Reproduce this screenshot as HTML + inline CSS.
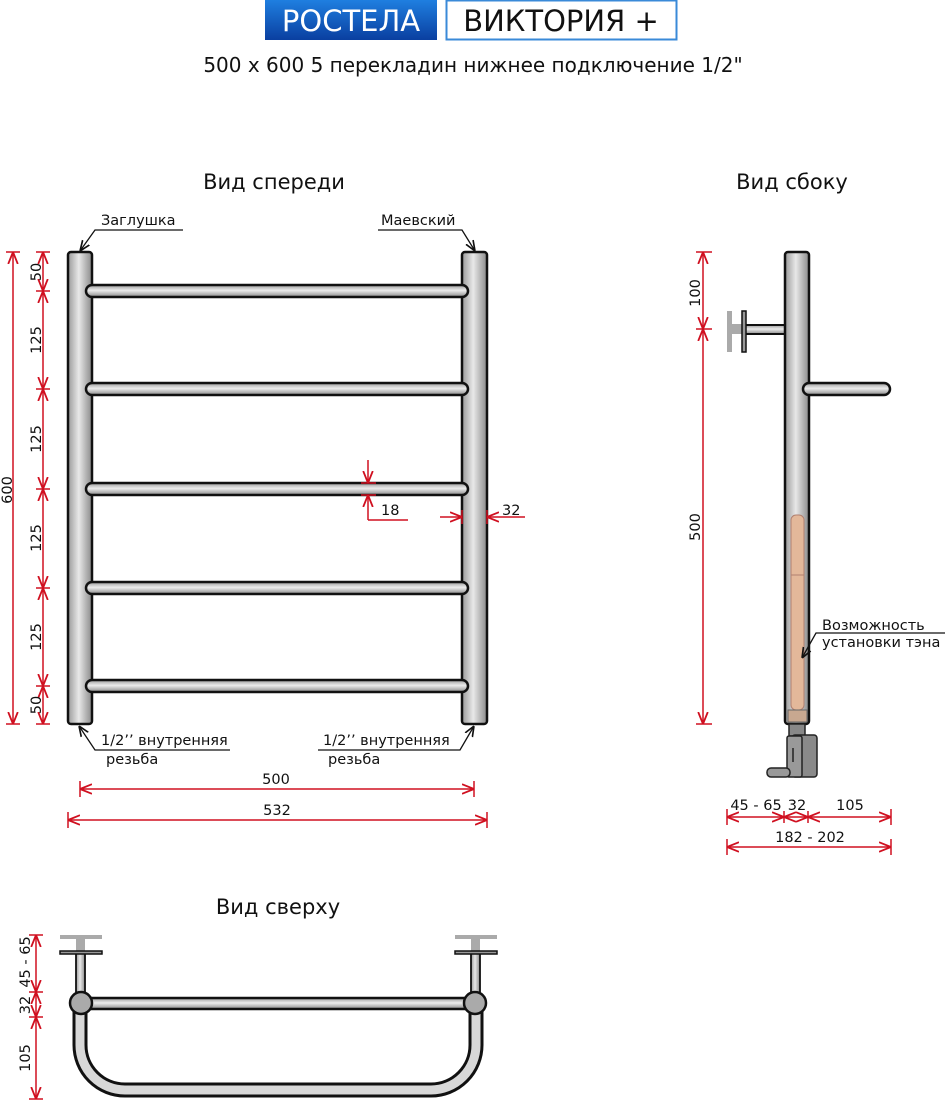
<!DOCTYPE html>
<html><head><meta charset="utf-8"><style>
html,body{margin:0;padding:0;background:#fff;}
svg{display:block;font-family:"DejaVu Sans","Liberation Sans",sans-serif;}
.d{stroke:#d01020;stroke-width:1.5;fill:none}
.t{stroke:#111;stroke-width:2.5}
.lbl{font-size:14.5px;fill:#111}
</style></head><body>
<svg width="945" height="1100" viewBox="0 0 945 1100" xmlns="http://www.w3.org/2000/svg">
<defs>
<linearGradient id="gv" x1="0" x2="1" y1="0" y2="0"><stop offset="0" stop-color="#9a9a9a"/><stop offset=".45" stop-color="#e8e8e8"/><stop offset="1" stop-color="#8a8a8a"/></linearGradient>
<linearGradient id="gh" x1="0" x2="0" y1="0" y2="1"><stop offset="0" stop-color="#9a9a9a"/><stop offset=".45" stop-color="#ececec"/><stop offset="1" stop-color="#8a8a8a"/></linearGradient>
<linearGradient id="gb" x1="0" x2="0" y1="0" y2="1"><stop offset="0" stop-color="#1f7fe0"/><stop offset="1" stop-color="#0a3fa0"/></linearGradient>
<marker id="a" viewBox="0 0 10 10" refX="10" refY="5" markerWidth="8" markerHeight="8" orient="auto-start-reverse"><path d="M0,1 L10,5 L0,9" fill="none" stroke="#d01020" stroke-width="1.5"/></marker>
<marker id="k" viewBox="0 0 10 10" refX="10" refY="5" markerWidth="8" markerHeight="8" orient="auto"><path d="M0,1 L10,5 L0,9" fill="none" stroke="#111" stroke-width="1.6"/></marker>
</defs>
<!-- header -->
<rect x="265" y="0" width="172" height="40" fill="url(#gb)"/>
<text x="351" y="31" text-anchor="middle" font-size="29" fill="#fff">РОСТЕЛА</text>
<rect x="446.5" y="0.5" width="230" height="39" fill="#fff" stroke="#3a8ad8" stroke-width="2"/>
<text x="561" y="31" text-anchor="middle" font-size="29" fill="#111">ВИКТОРИЯ +</text>
<text x="473" y="72" text-anchor="middle" font-size="20" fill="#111">500 x 600 5 перекладин нижнее подключение 1/2"</text>
<text x="274" y="189" text-anchor="middle" font-size="21" fill="#111">Вид спереди</text>
<text x="792" y="189" text-anchor="middle" font-size="21" fill="#111">Вид сбоку</text>
<text x="278" y="914" text-anchor="middle" font-size="21" fill="#111">Вид сверху</text>

<!-- FRONT -->
<g class="t">
<rect x="68" y="252" width="24" height="472" rx="3" fill="url(#gv)"/>
<rect x="462" y="252" width="25" height="472" rx="3" fill="url(#gv)"/>
<rect x="86" y="285" width="382" height="12" rx="6" fill="url(#gh)"/>
<rect x="86" y="383" width="382" height="12" rx="6" fill="url(#gh)"/>
<rect x="86" y="483" width="382" height="12" rx="6" fill="url(#gh)"/>
<rect x="86" y="582" width="382" height="12" rx="6" fill="url(#gh)"/>
<rect x="86" y="680" width="382" height="12" rx="6" fill="url(#gh)"/>
</g>
<!-- left dims -->
<g class="d">
<line x1="13" y1="252" x2="13" y2="724" marker-start="url(#a)" marker-end="url(#a)"/>
<line x1="6" y1="252" x2="20" y2="252"/><line x1="6" y1="724" x2="20" y2="724"/>
<line x1="43" y1="252" x2="43" y2="291" marker-start="url(#a)" marker-end="url(#a)"/>
<line x1="43" y1="291" x2="43" y2="389" marker-start="url(#a)" marker-end="url(#a)"/>
<line x1="43" y1="389" x2="43" y2="489" marker-start="url(#a)" marker-end="url(#a)"/>
<line x1="43" y1="489" x2="43" y2="588" marker-start="url(#a)" marker-end="url(#a)"/>
<line x1="43" y1="588" x2="43" y2="686" marker-start="url(#a)" marker-end="url(#a)"/>
<line x1="43" y1="686" x2="43" y2="724" marker-start="url(#a)" marker-end="url(#a)"/>
<line x1="36" y1="252" x2="50" y2="252"/><line x1="36" y1="291" x2="50" y2="291"/><line x1="36" y1="389" x2="50" y2="389"/><line x1="36" y1="489" x2="50" y2="489"/><line x1="36" y1="588" x2="50" y2="588"/><line x1="36" y1="686" x2="50" y2="686"/><line x1="36" y1="724" x2="50" y2="724"/>
</g>
<g class="lbl">
<text transform="translate(12,490) rotate(-90)" text-anchor="middle">600</text>
<text transform="translate(41,272) rotate(-90)" text-anchor="middle">50</text>
<text transform="translate(41,340) rotate(-90)" text-anchor="middle">125</text>
<text transform="translate(41,439) rotate(-90)" text-anchor="middle">125</text>
<text transform="translate(41,538) rotate(-90)" text-anchor="middle">125</text>
<text transform="translate(41,637) rotate(-90)" text-anchor="middle">125</text>
<text transform="translate(41,705) rotate(-90)" text-anchor="middle">50</text>
</g>
<!-- labels top -->
<g fill="none" stroke="#111" stroke-width="1.3">
<path d="M183,230 H95 L80,251" marker-end="url(#k)"/>
<path d="M378,230 H462 L475,251" marker-end="url(#k)"/>
<path d="M230,750 H95 L79,726" marker-end="url(#k)"/>
<path d="M318,750 H460 L474,726" marker-end="url(#k)"/>
</g>
<g class="lbl">
<text x="101" y="225">Заглушка</text>
<text x="381" y="225">Маевский</text>
<text x="101" y="745">1/2’’ внутренняя</text>
<text x="106" y="764">резьба</text>
<text x="323" y="745">1/2’’ внутренняя</text>
<text x="328" y="764">резьба</text>
</g>
<!-- 18 / 32 -->
<g class="d">
<line x1="368" y1="460" x2="368" y2="483" marker-end="url(#a)"/>
<line x1="368" y1="520" x2="368" y2="495" marker-end="url(#a)"/>
<line x1="368" y1="520" x2="408" y2="520"/>
<line x1="361" y1="483" x2="376" y2="483"/><line x1="361" y1="495" x2="376" y2="495"/>
<line x1="440" y1="517" x2="462" y2="517" marker-end="url(#a)"/>
<line x1="525" y1="517" x2="487" y2="517" marker-end="url(#a)"/>
<line x1="462" y1="510" x2="462" y2="524"/><line x1="487" y1="510" x2="487" y2="524"/>
</g>
<text class="lbl" x="381" y="515">18</text>
<text class="lbl" x="502" y="515">32</text>
<!-- 500 / 532 -->
<g class="d">
<line x1="80" y1="789" x2="474" y2="789" marker-start="url(#a)" marker-end="url(#a)"/>
<line x1="80" y1="781" x2="80" y2="797"/><line x1="474" y1="781" x2="474" y2="797"/>
<line x1="68" y1="820" x2="487" y2="820" marker-start="url(#a)" marker-end="url(#a)"/>
<line x1="68" y1="812" x2="68" y2="828"/><line x1="487" y1="812" x2="487" y2="828"/>
</g>
<text class="lbl" x="276" y="784" text-anchor="middle">500</text>
<text class="lbl" x="277" y="815" text-anchor="middle">532</text>

<!-- SIDE -->
<g class="t">
<rect x="727" y="311" width="5" height="41" fill="#aaa" stroke="none"/>
<rect x="730" y="324" width="15" height="10" fill="#aaa" stroke="none"/>
<rect x="745" y="325" width="42" height="9" fill="url(#gh)" stroke-width="2"/>
<rect x="742" y="311" width="4" height="41" fill="#999" stroke-width="1.5"/>
<rect x="785" y="252" width="24" height="472" rx="3" fill="url(#gv)"/>
<rect x="803" y="383" width="87" height="12" rx="6" fill="url(#gh)"/>
</g>
<rect x="791" y="515" width="13" height="195" rx="5" fill="#e3b89a" stroke="#b08070" stroke-width="1"/>
<line x1="791" y1="575" x2="804" y2="575" stroke="#b08070"/>
<rect x="788" y="710" width="19" height="12" fill="#c8a890" stroke="#666"/>
<g stroke="#222" stroke-width="1.5">
<rect x="789" y="724" width="16" height="12" fill="#888"/>
<rect x="792" y="735" width="25" height="42" rx="3" fill="#8a8a8a"/>
<rect x="787" y="736" width="15" height="41" rx="2" fill="#999"/>
<rect x="767" y="768" width="23" height="9" rx="4" fill="#999"/>
<line x1="793" y1="748" x2="793" y2="762"/>
</g>
<g class="d">
<line x1="703" y1="252" x2="703" y2="329" marker-start="url(#a)" marker-end="url(#a)"/>
<line x1="703" y1="329" x2="703" y2="724" marker-start="url(#a)" marker-end="url(#a)"/>
<line x1="696" y1="252" x2="712" y2="252"/><line x1="696" y1="329" x2="712" y2="329"/><line x1="696" y1="724" x2="712" y2="724"/>
<line x1="727" y1="817" x2="784" y2="817" marker-start="url(#a)" marker-end="url(#a)"/>
<line x1="784" y1="817" x2="808" y2="817" marker-start="url(#a)" marker-end="url(#a)"/>
<line x1="808" y1="817" x2="891" y2="817" marker-start="url(#a)" marker-end="url(#a)"/>
<line x1="727" y1="809" x2="727" y2="825"/><line x1="784" y1="811" x2="784" y2="823"/><line x1="808" y1="811" x2="808" y2="823"/><line x1="891" y1="809" x2="891" y2="825"/>
<line x1="727" y1="847" x2="891" y2="847" marker-start="url(#a)" marker-end="url(#a)"/>
<line x1="727" y1="839" x2="727" y2="855"/><line x1="891" y1="839" x2="891" y2="855"/>
</g>
<g class="lbl">
<text transform="translate(700,293) rotate(-90)" text-anchor="middle">100</text>
<text transform="translate(700,527) rotate(-90)" text-anchor="middle">500</text>
<text x="756" y="810" text-anchor="middle">45 - 65</text>
<text x="797" y="810" text-anchor="middle">32</text>
<text x="850" y="810" text-anchor="middle">105</text>
<text x="810" y="842" text-anchor="middle">182 - 202</text>
<text x="822" y="630">Возможность</text>
<text x="822" y="647">установки тэна</text>
</g>
<path d="M945,633 H816 L802,658" fill="none" stroke="#111" stroke-width="1.3" marker-end="url(#k)"/>

<!-- TOP -->
<g class="t">
<path d="M80,1010 V1045 A45,45 0 0 0 125,1090 H431 A45,45 0 0 0 476,1045 V1010" fill="none" stroke="#111" stroke-width="15"/>
<path d="M80,1010 V1045 A45,45 0 0 0 125,1090 H431 A45,45 0 0 0 476,1045 V1010" fill="none" stroke="#d8d8d8" stroke-width="9"/>
<rect x="60" y="935" width="42" height="4" fill="#aaa" stroke="none"/>
<rect x="76" y="938" width="9" height="14" fill="#aaa" stroke="none"/>
<rect x="76" y="952" width="9" height="42" fill="url(#gv)" stroke-width="1.8"/>
<rect x="60" y="951" width="42" height="3" fill="#999" stroke-width="1.5"/>
<rect x="455" y="935" width="42" height="4" fill="#aaa" stroke="none"/>
<rect x="471" y="938" width="9" height="14" fill="#aaa" stroke="none"/>
<rect x="471" y="952" width="9" height="42" fill="url(#gv)" stroke-width="1.8"/>
<rect x="455" y="951" width="42" height="3" fill="#999" stroke-width="1.5"/>
<rect x="88" y="998" width="378" height="11" fill="url(#gh)"/>
<circle cx="81" cy="1003" r="11" fill="#aaa"/>
<circle cx="475" cy="1003" r="11" fill="#aaa"/>
</g>
<g class="d">
<line x1="36" y1="935" x2="36" y2="992" marker-start="url(#a)" marker-end="url(#a)"/>
<line x1="36" y1="992" x2="36" y2="1017" marker-start="url(#a)" marker-end="url(#a)"/>
<line x1="36" y1="1017" x2="36" y2="1099" marker-start="url(#a)" marker-end="url(#a)"/>
<line x1="29" y1="935" x2="43" y2="935"/><line x1="29" y1="992" x2="43" y2="992"/><line x1="29" y1="1017" x2="43" y2="1017"/><line x1="29" y1="1099" x2="43" y2="1099"/>
</g>
<g class="lbl">
<text transform="translate(30,962) rotate(-90)" text-anchor="middle">45 - 65</text>
<text transform="translate(30,1005) rotate(-90)" text-anchor="middle">32</text>
<text transform="translate(30,1058) rotate(-90)" text-anchor="middle">105</text>
</g>
</svg>
</body></html>
